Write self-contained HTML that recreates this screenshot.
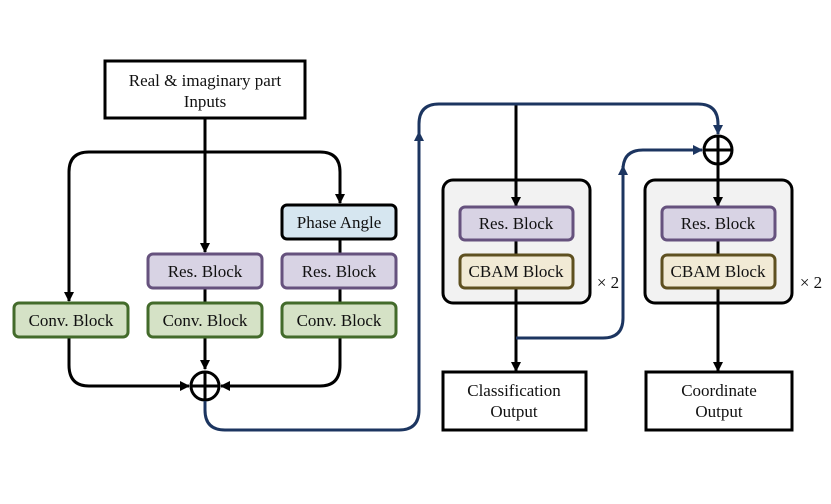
<!DOCTYPE html>
<html><head><style>
html,body{margin:0;padding:0;background:#fff;}
svg text{font-family:"Liberation Serif","Times New Roman",serif;font-size:17px;fill:#111;}
</style></head><body>
<svg width="831" height="499" viewBox="0 0 831 499" xmlns="http://www.w3.org/2000/svg">
<defs>
<marker id="ak" markerWidth="10" markerHeight="10" refX="9" refY="5" orient="auto" markerUnits="userSpaceOnUse"><path d="M0,0 L10,5 L0,10 z" fill="#000"/></marker>
<marker id="ab" markerWidth="10" markerHeight="10" refX="9" refY="5" orient="auto" markerUnits="userSpaceOnUse"><path d="M0,0 L10,5 L0,10 z" fill="#1c3560"/></marker>
</defs>
<g fill="none" stroke="#000" stroke-width="3">
<rect x="105" y="61" width="200" height="57" fill="#fff"/>
<path d="M205 118 V252" marker-end="url(#ak)"/>
<path d="M205 152 H89 Q69 152 69 172 V301" marker-end="url(#ak)"/>
<path d="M205 152 H320 Q340 152 340 172 V203" marker-end="url(#ak)"/>
<path d="M205 288 V303"/><path d="M340 239 V303"/>
<path d="M205 337 V369" marker-end="url(#ak)"/>
<path d="M69 337 V365 Q69 386 89 386 H189" marker-end="url(#ak)"/>
<path d="M340 337 V365 Q340 386 320 386 H221" marker-end="url(#ak)"/>
</g>
<rect x="443" y="180" width="147" height="123" rx="10" fill="#f2f2f2" stroke="#000" stroke-width="3"/>
<rect x="645" y="180" width="147" height="123" rx="10" fill="#f2f2f2" stroke="#000" stroke-width="3"/>
<g fill="none" stroke="#000" stroke-width="3">
<path d="M516 104 V206" marker-end="url(#ak)"/>
<path d="M516 240 V255"/>
<path d="M516 288 V371" marker-end="url(#ak)"/>
<path d="M718 165 V206" marker-end="url(#ak)"/>
<path d="M718 240 V255"/>
<path d="M718 288 V371" marker-end="url(#ak)"/>
<circle cx="205" cy="386" r="14" fill="#fff"/>
<path d="M191 386 H219 M205 372 V400"/>
<circle cx="718" cy="150" r="14" fill="#fff"/>
<path d="M704 150 H732 M718 136 V164"/>
</g>
<g fill="none" stroke="#1c3560" stroke-width="3">
<path d="M205 401 V410 Q205 430 225 430 H399 Q419 430 419 410 V132" marker-end="url(#ab)"/>
<path d="M419 134 V124 Q419 104 439 104 H698 Q718 104 718 124 V134" marker-end="url(#ab)"/>
<path d="M516 338 H603 Q623 338 623 318 V166" marker-end="url(#ab)"/>
<path d="M623 168 V170 Q623 150 643 150 H702" marker-end="url(#ab)"/>
</g>
<g stroke-width="3">
<rect x="282" y="205" width="114" height="34" rx="5" fill="#d6e6f0" stroke="#000"/>
<rect x="148" y="254" width="114" height="34" rx="5" fill="#d8d3e4" stroke="#66527e"/>
<rect x="282" y="254" width="114" height="34" rx="5" fill="#d8d3e4" stroke="#66527e"/>
<rect x="14" y="303" width="114" height="34" rx="5" fill="#d5e2c6" stroke="#436b2b"/>
<rect x="148" y="303" width="114" height="34" rx="5" fill="#d5e2c6" stroke="#436b2b"/>
<rect x="282" y="303" width="114" height="34" rx="5" fill="#d5e2c6" stroke="#436b2b"/>
<rect x="460" y="207" width="113" height="33" rx="5" fill="#d8d3e4" stroke="#66527e"/>
<rect x="460" y="255" width="113" height="33" rx="5" fill="#f1ead5" stroke="#5e5020"/>
<rect x="662" y="207" width="113" height="33" rx="5" fill="#d8d3e4" stroke="#66527e"/>
<rect x="662" y="255" width="113" height="33" rx="5" fill="#f1ead5" stroke="#5e5020"/>
<rect x="443" y="372" width="143" height="58" fill="#fff" stroke="#000"/>
<rect x="646" y="372" width="146" height="58" fill="#fff" stroke="#000"/>
</g>
<g text-anchor="middle">
<text x="205" y="86">Real &amp; imaginary part</text>
<text x="205" y="107">Inputs</text>
<text x="339" y="228">Phase Angle</text>
<text x="205" y="277">Res. Block</text>
<text x="339" y="277">Res. Block</text>
<text x="71" y="326">Conv. Block</text>
<text x="205" y="326">Conv. Block</text>
<text x="339" y="326">Conv. Block</text>
<text x="516" y="229">Res. Block</text>
<text x="516" y="277">CBAM Block</text>
<text x="718" y="229">Res. Block</text>
<text x="718" y="277">CBAM Block</text>
<text x="514" y="396">Classification</text>
<text x="514" y="417">Output</text>
<text x="719" y="396">Coordinate</text>
<text x="719" y="417">Output</text>
<text x="608" y="288">× 2</text>
<text x="811" y="288">× 2</text>
</g>
</svg>
</body></html>
